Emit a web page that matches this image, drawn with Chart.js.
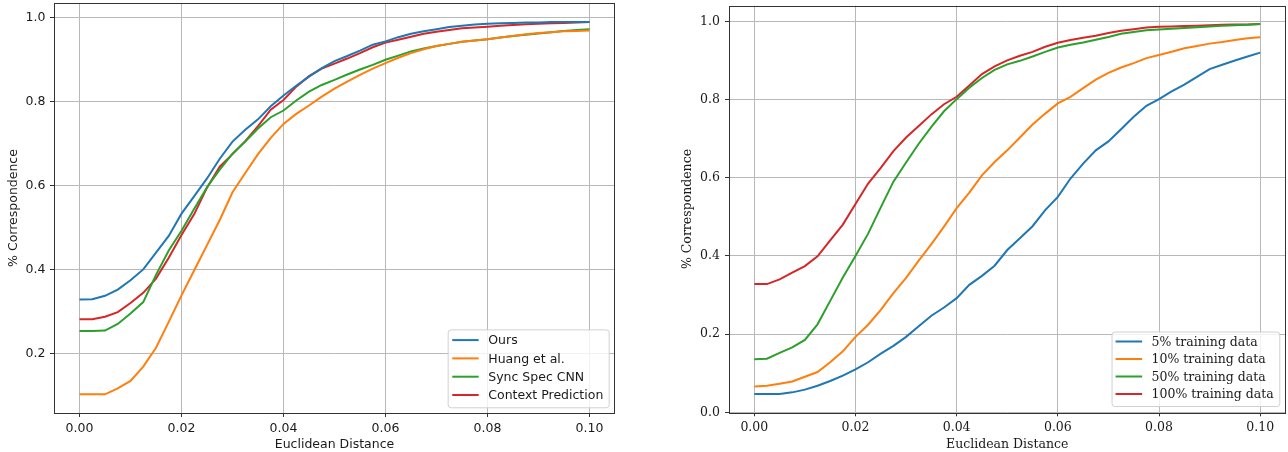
<!DOCTYPE html>
<html>
<head>
<meta charset="utf-8">
<script src="https://cdn.jsdelivr.net/npm/chart.js@4.4.0/dist/chart.umd.min.js"></script>
<style>
  body { margin: 0; background: #fff; width: 1288px; height: 452px; overflow: hidden; position: relative; }
  canvas { position: absolute; top: 0; }
  #left-chart { left: 0; }
  #right-chart { left: 644px; }
</style>
</head>
<body>
<canvas id="left-chart" width="644" height="452"></canvas>
<canvas id="right-chart" width="644" height="452"></canvas>
<script>
// shared x positions (euclidean distance)
const distances = [0, 0.0025, 0.005, 0.0075, 0.01, 0.0125, 0.015, 0.0175, 0.02, 0.0225,
  0.025, 0.0275, 0.03, 0.0325, 0.035, 0.0375, 0.04, 0.0425, 0.045, 0.0475,
  0.05, 0.0525, 0.055, 0.0575, 0.06, 0.0625, 0.065, 0.0675, 0.07, 0.0725,
  0.075, 0.0775, 0.08, 0.0825, 0.085, 0.0875, 0.09, 0.0925, 0.095, 0.0975, 0.1];

// left chart: methods
const methodLabels = ['Ours', 'Huang et al.', 'Sync Spec CNN', 'Context Prediction'];
const oursVals = [0.328, 0.329, 0.337, 0.352, 0.374, 0.400, 0.440, 0.480, 0.533, 0.575,
  0.617, 0.664, 0.705, 0.733, 0.758, 0.789, 0.815, 0.838, 0.860, 0.880,
  0.897, 0.909, 0.922, 0.936, 0.944, 0.954, 0.962, 0.968, 0.973, 0.978,
  0.981, 0.984, 0.986, 0.987, 0.988, 0.989, 0.989, 0.990, 0.990, 0.990, 0.990];
const huangVals = [0.102, 0.102, 0.102, 0.116, 0.134, 0.168, 0.213, 0.275, 0.338, 0.398,
  0.458, 0.518, 0.584, 0.630, 0.675, 0.714, 0.747, 0.771, 0.791, 0.812,
  0.831, 0.848, 0.864, 0.879, 0.892, 0.905, 0.916, 0.925, 0.933, 0.938,
  0.943, 0.946, 0.949, 0.953, 0.957, 0.961, 0.964, 0.966, 0.968, 0.969, 0.970];
const syncSpecVals = [0.253, 0.253, 0.254, 0.270, 0.295, 0.322, 0.387, 0.445, 0.492, 0.545,
  0.596, 0.638, 0.676, 0.705, 0.736, 0.763, 0.779, 0.803, 0.824, 0.840,
  0.852, 0.865, 0.877, 0.888, 0.900, 0.910, 0.920, 0.927, 0.933, 0.938,
  0.943, 0.946, 0.949, 0.953, 0.957, 0.960, 0.963, 0.966, 0.969, 0.971, 0.973];
const contextVals = [0.281, 0.281, 0.287, 0.298, 0.320, 0.344, 0.378, 0.428, 0.482, 0.532,
  0.595, 0.645, 0.675, 0.706, 0.742, 0.781, 0.804, 0.836, 0.861, 0.879,
  0.891, 0.903, 0.916, 0.930, 0.941, 0.948, 0.955, 0.962, 0.967, 0.971,
  0.975, 0.977, 0.979, 0.981, 0.983, 0.985, 0.986, 0.987, 0.988, 0.989, 0.990];

// right chart: training data fractions
const trainLabels = ['5% training data', '10% training data', '50% training data', '100% training data'];
const train5Vals = [0.047, 0.047, 0.047, 0.051, 0.058, 0.068, 0.080, 0.094, 0.110, 0.128,
  0.150, 0.170, 0.193, 0.220, 0.247, 0.268, 0.292, 0.326, 0.349, 0.375,
  0.415, 0.445, 0.476, 0.517, 0.551, 0.598, 0.636, 0.670, 0.693, 0.724,
  0.756, 0.784, 0.801, 0.821, 0.838, 0.858, 0.878, 0.889, 0.900, 0.910, 0.920];
const train10Vals = [0.066, 0.068, 0.073, 0.079, 0.091, 0.103, 0.128, 0.156, 0.193, 0.224,
  0.262, 0.305, 0.344, 0.388, 0.430, 0.475, 0.522, 0.562, 0.606, 0.640,
  0.670, 0.703, 0.736, 0.764, 0.790, 0.807, 0.829, 0.851, 0.868, 0.882,
  0.893, 0.906, 0.914, 0.922, 0.931, 0.937, 0.943, 0.947, 0.952, 0.957, 0.959];
const train50Vals = [0.136, 0.137, 0.152, 0.166, 0.185, 0.225, 0.285, 0.345, 0.400, 0.457,
  0.524, 0.590, 0.639, 0.687, 0.730, 0.770, 0.801, 0.830, 0.855, 0.876,
  0.890, 0.899, 0.910, 0.922, 0.933, 0.940, 0.946, 0.953, 0.960, 0.968,
  0.973, 0.977, 0.979, 0.981, 0.983, 0.985, 0.987, 0.989, 0.990, 0.991, 0.993];
const train100Vals = [0.328, 0.328, 0.340, 0.357, 0.374, 0.399, 0.440, 0.480, 0.533, 0.585,
  0.625, 0.668, 0.703, 0.732, 0.762, 0.788, 0.807, 0.836, 0.865, 0.885,
  0.900, 0.912, 0.922, 0.935, 0.945, 0.952, 0.958, 0.963, 0.970, 0.976,
  0.980, 0.984, 0.986, 0.987, 0.988, 0.989, 0.990, 0.991, 0.992, 0.992, 0.993];

const xTicks = [0, 0.02, 0.04, 0.06, 0.08, 0.1];
const yTicksLeft = [0.2, 0.4, 0.6, 0.8, 1.0];
const yTicksRight = [0, 0.2, 0.4, 0.6, 0.8, 1.0];
const lineColors = ['#1f77b4', '#ff7f0e', '#2ca02c', '#d62728'];

const toPoints = (vals) => distances.map((d, i) => ({ x: d, y: vals[i] }));

// box around plot area + matplotlib-like legend in lower right
const frameAndLegend = {
  id: 'frameAndLegend',
  afterDatasetsDraw(chart, args, opts) {
    const { ctx, chartArea: a } = chart;
    ctx.save();
    ctx.font = opts.font;
    const labels = chart.data.datasets.map((d) => d.label);
    const textW = Math.max(...labels.map((l) => ctx.measureText(l).width));
    const w = opts.padL + opts.handle + opts.gap + textW + opts.padR;
    const h = opts.padT + opts.rowH * (labels.length - 1) + opts.padB;
    const x = a.right - opts.offR - w;
    const y = a.bottom - opts.offB - h;
    ctx.beginPath();
    ctx.roundRect(x + 0.5, y + 0.5, w, h, 3);
    ctx.fillStyle = 'rgba(255,255,255,0.8)';
    ctx.fill();
    ctx.strokeStyle = '#d0d0d0';
    ctx.lineWidth = 1;
    ctx.stroke();
    ctx.textBaseline = 'middle';
    ctx.textAlign = 'left';
    labels.forEach((l, i) => {
      const ry = y + opts.padT + i * opts.rowH;
      ctx.strokeStyle = chart.data.datasets[i].borderColor;
      ctx.lineWidth = 2;
      ctx.beginPath();
      ctx.moveTo(x + opts.padL, ry);
      ctx.lineTo(x + opts.padL + opts.handle, ry);
      ctx.stroke();
      ctx.fillStyle = '#1a1a1a';
      ctx.fillText(l, x + opts.padL + opts.handle + opts.gap, ry + 1);
    });
    ctx.strokeStyle = '#333';
    ctx.lineWidth = 1;
    ctx.strokeRect(Math.round(a.left) + 0.5, Math.round(a.top) + 0.5,
      Math.round(a.right - a.left) - 1, Math.round(a.bottom - a.top));
    ctx.restore();
  },
};

function buildConfig(labels, series, s) {
  const font = { family: s.family, size: 12.5 };
  return {
    type: 'line',
    data: {
      datasets: series.map((vals, i) => ({
        label: labels[i],
        data: toPoints(vals),
        borderColor: lineColors[i],
        backgroundColor: lineColors[i],
        borderWidth: 2,
        pointRadius: 0,
        tension: 0,
      })),
    },
    options: {
      responsive: false,
      animation: false,
      layout: { padding: s.padding },
      plugins: {
        legend: { display: false },
        tooltip: { enabled: false },
        frameAndLegend: s.legend,
      },
      scales: {
        x: {
          type: 'linear',
          min: -0.005,
          max: 0.105,
          afterBuildTicks: (sc) => { sc.ticks = xTicks.map((v) => ({ value: v })); },
          afterFit: (sc) => { sc.height = s.xHeight; sc.paddingLeft = 0; sc.paddingRight = 0; },
          ticks: { callback: (v) => v.toFixed(2), font, color: '#1a1a1a', padding: 4, maxRotation: 0, autoSkip: false },
          grid: { color: '#b8b8b8', tickColor: '#333', tickLength: 4, lineWidth: 1 },
          border: { display: false },
          title: { display: true, text: 'Euclidean Distance', font, color: '#1a1a1a', padding: { top: s.xTitlePad, bottom: 0 } },
        },
        y: {
          type: 'linear',
          min: s.yMin,
          max: s.yMax,
          afterBuildTicks: (sc) => { sc.ticks = s.yTicks.map((v) => ({ value: v })); },
          afterFit: (sc) => { sc.width = s.yWidth; sc.paddingTop = 0; sc.paddingBottom = 0; },
          ticks: { callback: (v) => v.toFixed(1), font, color: '#1a1a1a', padding: s.yTickPad },
          grid: { color: '#b8b8b8', tickColor: '#333', tickLength: 4, lineWidth: 1 },
          border: { display: false },
          title: { display: true, text: '% Correspondence', font, color: '#1a1a1a', padding: { top: s.yTitlePad, bottom: 0 } },
        },
      },
    },
    plugins: [frameAndLegend],
  };
}

new Chart(document.getElementById('left-chart'), buildConfig(
  methodLabels,
  [oursVals, huangVals, syncSpecVals, contextVals],
  {
    family: '"DejaVu Sans", sans-serif',
    padding: { left: 0, right: 29, top: 3, bottom: 0 },
    xHeight: 39, yWidth: 54, yMin: 0.0575, yMax: 1.0355, yTicks: yTicksLeft,
    yTickPad: 4.5, yTitlePad: 6, xTitlePad: 0.5,
    legend: { font: '12.5px "DejaVu Sans"', padL: 4.6, handle: 26.4, gap: 9.6, padR: 5.4,
      padT: 10.7, padB: 12.3, rowH: 18.3, offR: 6.3, offB: 5.7 },
  }
));

new Chart(document.getElementById('right-chart'), buildConfig(
  trainLabels,
  [train5Vals, train10Vals, train50Vals, train100Vals],
  {
    family: '"DejaVu Serif", serif',
    padding: { left: 30, right: 2.5, top: 5.7, bottom: 0 },
    xHeight: 39.7, yWidth: 55, yMin: 0, yMax: 1.04, yTicks: yTicksRight,
    yTickPad: 5, yTitlePad: 6.5, xTitlePad: 3.5,
    legend: { font: '12.5px "DejaVu Serif"', padL: 4, handle: 26.6, gap: 9.4, padR: 5.6,
      padT: 10, padB: 12, rowH: 17.5, offR: 6.2, offB: 6.3 },
  }
));
</script>
</body>
</html>
